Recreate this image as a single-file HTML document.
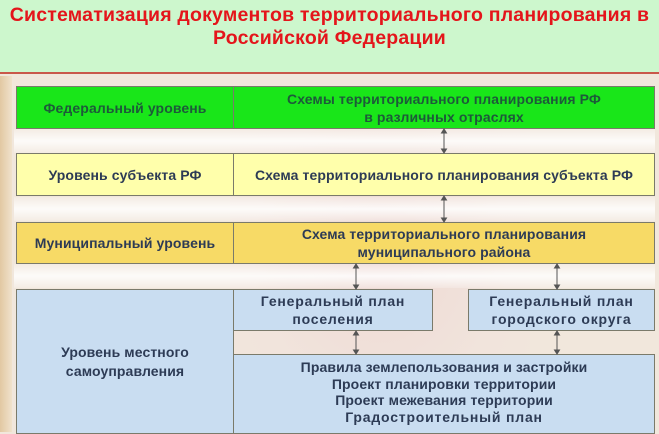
<!DOCTYPE html>
<html><head><meta charset="utf-8"><style>
*{margin:0;padding:0;box-sizing:border-box}
body{width:659px;height:432px;overflow:hidden;position:relative;font-family:"Liberation Sans",Arial,sans-serif;background:#f1e7dc}
.hdr{position:absolute;left:0;top:0;width:659px;height:74px;background:#cdf7cd;border-bottom:2px solid #c9584a}
.title{position:absolute;left:0;top:4px;width:659px;text-align:center;color:#e4151b;font-weight:bold;font-size:19.5px;line-height:23px;letter-spacing:0.2px;white-space:nowrap}
.strip{position:absolute;left:0;top:76px;width:12px;height:356px;background:linear-gradient(90deg,#e2c8a2,#f0e2cc)}
.map{position:absolute;left:230px;top:80px;width:300px;height:352px;background:radial-gradient(ellipse at center,#eed9d4 0%,#f1e4dc 60%,rgba(241,231,220,0) 100%)}
.b{position:absolute;border:1px solid #7a7a6a;display:flex;align-items:center;justify-content:center;text-align:center;font-weight:bold;font-size:14px;line-height:18px;color:#2d3b55;letter-spacing:0.1px;white-space:nowrap}
.g{background:#19e619;color:#1d5a3a}
.y{background:#ffffab}
.o{background:#f7da66}
.l{background:#c9ddf1}
.sp{letter-spacing:0.8px}
.band{position:absolute;left:14px;width:641px;height:24px;background:linear-gradient(180deg,rgba(255,255,255,.2),rgba(255,255,255,.85),rgba(255,255,255,.2))}
svg{position:absolute;left:0;top:0}
</style></head><body>
<div class="hdr"></div>
<div class="title">Систематизация документов территориального планирования в<br>Российской Федерации</div>
<div class="strip"></div>
<div class="map"></div>
<div class="band" style="top:129px"></div>
<div class="band" style="top:197px"></div>
<div class="band" style="top:264px"></div>

<div class="b g" style="left:16px;top:86px;width:218px;height:43px">Федеральный уровень</div>
<div class="b g" style="left:233px;top:86px;width:422px;height:43px"><div>Схемы территориального планирования РФ<br>в различных отраслях</div></div>

<div class="b y" style="left:16px;top:153px;width:218px;height:43px">Уровень субъекта РФ</div>
<div class="b y" style="left:233px;top:153px;width:422px;height:43px">Схема территориального планирования субъекта РФ</div>

<div class="b o" style="left:16px;top:222px;width:218px;height:42px">Муниципальный уровень</div>
<div class="b o" style="left:233px;top:222px;width:422px;height:42px"><div>Схема территориального планирования<br>муниципального района</div></div>

<div class="b l" style="left:16px;top:289px;width:218px;height:145px;line-height:19px"><div>Уровень местного<br>самоуправления</div></div>
<div class="b l sp" style="left:233px;top:289px;width:200px;height:42px"><div>Генеральный план<br>поселения</div></div>
<div class="b l sp" style="left:468px;top:289px;width:187px;height:42px"><div>Генеральный план<br>городского округа</div></div>
<div class="b l" style="left:233px;top:354px;width:422px;height:80px;line-height:16.5px;align-items:flex-start;padding-top:4px"><div>Правила землепользования и застройки<br>Проект планировки территории<br>Проект межевания территории<br><span class="sp">Градостроительный план</span></div></div>

<svg width="659" height="432">
<g stroke="#555" stroke-width="1" fill="#555">
<line x1="444" y1="131" x2="444" y2="151"/><path d="M444 129l-2.5 4h5z M444 153l-2.5-4h5z"/>
<line x1="444" y1="198" x2="444" y2="220"/><path d="M444 196l-2.5 4h5z M444 222l-2.5-4h5z"/>
<line x1="356" y1="266" x2="356" y2="287"/><path d="M356 264l-2.5 4h5z M356 289l-2.5-4h5z"/>
<line x1="557" y1="266" x2="557" y2="287"/><path d="M557 264l-2.5 4h5z M557 289l-2.5-4h5z"/>
<line x1="356" y1="333" x2="356" y2="352"/><path d="M356 331l-2.5 4h5z M356 354l-2.5-4h5z"/>
<line x1="557" y1="333" x2="557" y2="352"/><path d="M557 331l-2.5 4h5z M557 354l-2.5-4h5z"/>
</g>
</svg>
</body></html>
